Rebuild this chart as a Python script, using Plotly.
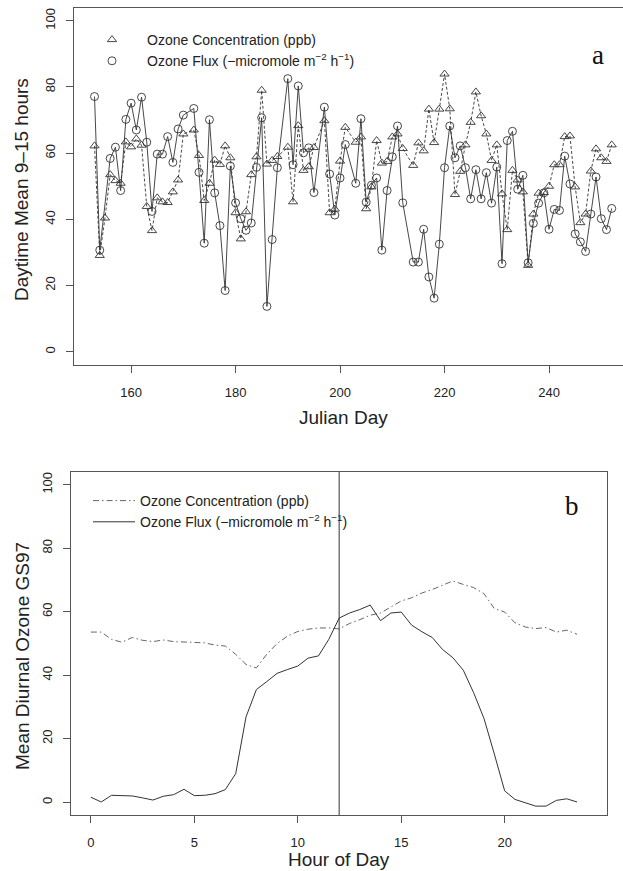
import plotly.graph_objects as go

# ---------------- data: panel a (daily daytime means) ----------------
days = list(range(153, 253))
conc_a = [62.2, 29.1, 40.4, 53.5, 51.7, 50.9, 63.4, 61.9, 64.3, 62.4,
          43.9, 36.6, 46.5, 45.3, 45.1, 48.3, 51.9, 65.8, None, 67.0,
          59.3, 45.7, 50.9, 57.9, 56.6, 62.2, 58.6, 42.0, 34.1, 42.3,
          53.5, 58.9, 79.0, 56.7, 57.8, 59.0, None, 61.8, 45.3, 68.3,
          54.8, 55.9, 61.7, None, 69.8, 42.0, 43.1, 57.6, 67.8, None,
          63.3, 64.9, 43.2, 49.8, 63.8, 57.0, 57.5, 64.9, 65.8, 61.4,
          None, 56.3, 63.1, 60.7, 73.3, 63.2, 73.3, 83.9, 73.4, 47.5,
          54.5, 62.5, 69.3, 78.5, 71.3, 65.8, 57.8, 62.5, 47.7, 36.9,
          54.8, 51.9, 48.3, 26.1, 41.6, 47.9, 48.1, 50.0, 56.5, 56.5,
          65.0, 65.2, 49.8, 39.0, 41.6, 54.6, 61.3, 58.6, 57.5, 62.5]
flux_a = [77.1, 30.7, None, 58.4, 61.8, 48.7, 70.2, 75.1, 67.0, 76.9,
          63.3, 42.4, 59.7, 59.7, 65.0, 57.2, 67.3, 71.5, None, 73.5,
          54.2, 32.8, 70.1, 48.0, 38.1, 18.5, 56.1, 45.0, 40.2, 36.7,
          38.9, 55.7, 70.7, 13.7, 33.9, 55.6, None, 82.5, 56.5, 80.3,
          60.1, 61.6, 48.1, None, 73.9, 53.7, 41.3, 52.5, 62.6, None,
          50.9, 70.4, 45.2, 50.3, 52.5, 30.7, 48.7, 58.9, 68.2, 45.0,
          None, 27.1, 27.1, 37.0, 22.6, 16.2, 32.5, 55.6, 68.2, 58.6,
          62.2, 55.6, 46.2, 55.0, 46.2, 54.1, 44.9, 55.8, 26.6, 63.8,
          66.6, 49.1, 53.3, 26.9, 38.8, 44.9, 48.0, 37.0, 43.0, 42.7,
          59.1, 50.7, 35.6, 33.2, 30.3, 41.6, 52.8, 40.2, 36.9, 43.3]

# ---------------- data: panel b (mean diurnal course) ----------------
hours = [0, 0.5, 1, 1.5, 2, 2.5, 3, 3.5, 4, 4.5, 5, 5.5, 6, 6.5, 7, 7.5,
         8, 8.5, 9, 9.5, 10, 10.5, 11, 11.5, 12, 12.5, 13, 13.5, 14, 14.5,
         15, 15.5, 16, 16.5, 17, 17.5, 18, 18.5, 19, 19.5, 20, 20.5, 21,
         21.5, 22, 22.5, 23, 23.5]
conc_b = [53.6, 53.6, 51.3, 50.4, 51.9, 51.0, 50.6, 51.1, 50.6, 50.5,
          50.2, 50.2, 49.5, 49.2, 46.6, 43.4, 42.3, 46.6, 50.0, 52.3,
          53.8, 54.5, 54.9, 54.9, 54.6, 56.3, 57.5, 58.9, 59.6, 61.5,
          63.4, 64.4, 65.9, 67.0, 68.3, 69.7, 68.6, 67.6, 65.7, 61.0,
          59.9, 56.5, 55.2, 54.7, 55.0, 53.6, 54.2, 52.9]
flux_b = [1.6, 0.1, 2.2, 2.2, 2.0, 1.4, 0.7, 1.9, 2.4, 4.1,
          2.1, 2.2, 2.7, 4.0, 9.0, 26.9, 35.5, 38.0, 40.6, 41.8,
          42.9, 45.4, 46.1, 51.3, 58.0, 59.6, 60.7, 62.1, 57.2, 59.6,
          59.9, 55.8, 53.7, 51.9, 48.1, 45.5, 41.6, 34.5, 26.4, 15.2,
          3.6, 0.9, -0.1, -1.2, -1.2, 0.6, 1.1, 0.1]
noon_line = 12

ticks_a_x = [160, 180, 200, 220, 240]
ticks_b_x = [0, 5, 10, 15, 20]
ticks_y = [0, 20, 40, 60, 80, 100]

name_conc = "Ozone Concentration (ppb)"
name_flux = "Ozone Flux (\u2212micromole m<sup>\u22122</sup> h<sup>\u22121</sup>)"

# ---------------- layout helpers ----------------
W, H = 623, 871
def fx(p):
    return p / W
def fy(p):
    return 1 - p / H

FONT = "Liberation Sans, Arial, Helvetica, sans-serif"
AX = "#555555"
INK = "#222222"

fig = go.Figure()

# panel a data
fig.add_trace(go.Scatter(x=days, y=conc_a, mode="lines+markers", connectgaps=True,
                         line=dict(color="#333333", width=0.9, dash="3px,2px"),
                         marker=dict(symbol="triangle-up-open", size=8, color="#333333",
                                     line=dict(width=0.9)),
                         showlegend=False, xaxis="x", yaxis="y"))
fig.add_trace(go.Scatter(x=days, y=flux_a, mode="lines+markers", connectgaps=True,
                         line=dict(color="#333333", width=0.9),
                         marker=dict(symbol="circle-open", size=8, color="#333333",
                                     line=dict(width=0.9)),
                         showlegend=False, xaxis="x", yaxis="y"))
# panel a legend keys
fig.add_trace(go.Scatter(x=[None], y=[None], mode="markers", name=name_conc,
                         marker=dict(symbol="triangle-up-open", size=8, color="#333333",
                                     line=dict(width=0.9)),
                         legend="legend", xaxis="x", yaxis="y"))
fig.add_trace(go.Scatter(x=[None], y=[None], mode="markers", name=name_flux,
                         marker=dict(symbol="circle-open", size=8, color="#333333",
                                     line=dict(width=0.9)),
                         legend="legend", xaxis="x", yaxis="y"))

# panel b data
fig.add_trace(go.Scatter(x=hours, y=conc_b, mode="lines", name=name_conc,
                         line=dict(color="#555555", width=0.9, dash="6px,3px,1.5px,3px"),
                         legend="legend2", xaxis="x2", yaxis="y2"))
fig.add_trace(go.Scatter(x=hours, y=flux_b, mode="lines", name=name_flux,
                         line=dict(color="#333333", width=1.0),
                         legend="legend2", xaxis="x2", yaxis="y2"))

axis_common = dict(showgrid=False, zeroline=False, showline=True, linecolor=AX,
                   linewidth=1, ticks="outside", ticklen=7, tickcolor=AX, tickwidth=1,
                   tickfont=dict(family=FONT, size=13, color=INK))

fig.update_layout(
    width=W, height=H, margin=dict(l=0, r=0, t=0, b=0),
    paper_bgcolor="white", plot_bgcolor="white",
    xaxis=dict(domain=[fx(74), 1], range=[149.07, 254.16], tickvals=ticks_a_x,
               anchor="y", mirror=True, ticklabelstandoff=8, **axis_common),
    yaxis=dict(domain=[fy(365), fy(7.5)], range=[-4, 104], tickvals=ticks_y,
               anchor="x", tickangle=-90, ticklabelstandoff=6, **axis_common),
    xaxis2=dict(domain=[fx(71), fx(607.3)], range=[-0.96, 24.96], tickvals=ticks_b_x,
                anchor="y2", mirror=True, ticklabelstandoff=8, **axis_common),
    yaxis2=dict(domain=[fy(815), fy(472)], range=[-4, 104], tickvals=ticks_y,
                anchor="x2", mirror=True, tickangle=-90, ticklabelstandoff=6, **axis_common),
    legend=dict(x=fx(77), y=fy(24), xanchor="left", yanchor="top",
                bgcolor="rgba(0,0,0,0)", font=dict(family=FONT, size=14, color=INK),
                tracegroupgap=0, itemwidth=60),
    legend2=dict(x=fx(88), y=fy(485), xanchor="left", yanchor="top",
                 bgcolor="rgba(0,0,0,0)", font=dict(family=FONT, size=14, color=INK),
                 tracegroupgap=0, itemwidth=42),
    shapes=[dict(type="line", xref="x2", yref="y2 domain", x0=noon_line, x1=noon_line,
                 y0=0, y1=1, line=dict(color="#333333", width=1))],
    annotations=[
        dict(text="Julian Day", x=fx(343), y=fy(417), xref="paper", yref="paper",
             showarrow=False, xanchor="center", yanchor="middle",
             font=dict(family=FONT, size=19, color=INK)),
        dict(text="Daytime Mean 9\u201315 hours", x=fx(22), y=fy(190), xref="paper",
             yref="paper", showarrow=False, textangle=-90, xanchor="center",
             yanchor="middle", font=dict(family=FONT, size=19, color=INK)),
        dict(text="Hour of Day", x=fx(339), y=fy(859), xref="paper", yref="paper",
             showarrow=False, xanchor="center", yanchor="middle",
             font=dict(family=FONT, size=19, color=INK)),
        dict(text="Mean Diurnal Ozone GS97", x=fx(22), y=fy(656), xref="paper",
             yref="paper", showarrow=False, textangle=-90, xanchor="center",
             yanchor="middle", font=dict(family=FONT, size=19, color=INK)),
        dict(text="a", x=fx(598), y=fy(55), xref="paper", yref="paper", showarrow=False,
             xanchor="center", yanchor="middle",
             font=dict(family="Liberation Serif, Times New Roman, serif", size=27, color="#111111")),
        dict(text="b", x=fx(572), y=fy(506), xref="paper", yref="paper", showarrow=False,
             xanchor="center", yanchor="middle",
             font=dict(family="Liberation Serif, Times New Roman, serif", size=27, color="#111111")),
    ],
)

fig.write_html("out.html",
               config={"displayModeBar": False},
               post_script="document.body.style.margin='0px';"
                           "document.body.style.overflow='hidden';")
